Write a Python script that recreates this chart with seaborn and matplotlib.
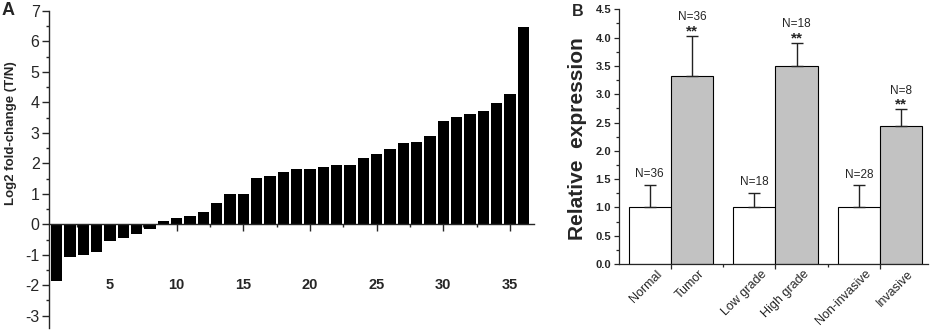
import numpy as np
import pandas as pd
import matplotlib
matplotlib.use('Agg')
import matplotlib.pyplot as plt
from matplotlib.transforms import blended_transform_factory
from matplotlib.ticker import MultipleLocator
import seaborn as sns

# panel A: log2 fold change per patient, sorted
fold_change = [-1.86, -1.06, -1.00, -0.90, -0.54, -0.44, -0.33, -0.15, 0.12, 0.19,
               0.28, 0.40, 0.70, 1.00, 1.00, 1.51, 1.60, 1.73, 1.82, 1.82,
               1.87, 1.94, 1.94, 2.16, 2.31, 2.48, 2.66, 2.71, 2.89, 3.39,
               3.52, 3.61, 3.71, 3.99, 4.29, 6.48]
sample_no = list(range(1, len(fold_change) + 1))

# panel B: relative expression, control vs case for three comparisons
comparisons = ['tumor', 'grade', 'invasion']
control_names = ['Normal', 'Low grade', 'Non-invasive']
case_names = ['Tumor', 'High grade', 'Invasive']
control_mean = [1.0, 1.0, 1.0]
control_sd = [0.40, 0.26, 0.39]
case_mean = [3.33, 3.50, 2.44]
case_sd = [0.70, 0.40, 0.29]
control_n = ['N=36', 'N=18', 'N=28']
case_n = ['N=36', 'N=18', 'N=8']

sns.set_style('ticks')
plt.rcParams['font.family'] = ['Liberation Sans', 'DejaVu Sans']

fig = plt.figure(figsize=(9.34, 3.30), dpi=100)
axA = fig.add_axes([0.0528, 0.0064, 0.519, 0.9603])
axB = fig.add_axes([0.6624, 0.2, 0.3312, 0.7718])

# ---- panel A
sns.barplot(x=sample_no, y=fold_change, native_scale=True, color='black',
            saturation=1, width=0.85, edgecolor='none', ax=axA)
sns.despine(ax=axA)
axA.spines['bottom'].set_position(('data', 0))
axA.set_xlim(0.45, 36.8)
axA.set_ylim(-3.4, 7)
axA.set_xticks([5, 10, 15, 20, 25, 30, 35])
axA.set_xticks(np.arange(2.5, 36, 5), minor=True)
axA.set_yticks(range(-3, 8))
axA.yaxis.set_minor_locator(MultipleLocator(0.5))
for sp in axA.spines.values():
    sp.set_linewidth(1.0)
axA.tick_params(axis='x', which='major', length=5, width=1, pad=34, labelsize=10.5)
axA.tick_params(axis='x', which='minor', length=2.5, width=1)
axA.tick_params(axis='y', which='major', length=5, width=1, pad=2, labelsize=11.5)
axA.tick_params(axis='y', which='minor', length=2.5, width=1)
for lbl in axA.get_xticklabels():
    lbl.set_fontweight('bold')
axA.set_yticklabels([str(v) for v in range(-3, 8)])
axA.set_xlabel('')
axA.set_ylabel('Log2 fold-change (T/N)', fontsize=9.5, fontweight='bold')
axA.yaxis.set_label_coords(-0.066, 0.615)

# ---- panel B
df_b = pd.DataFrame({
    'comparison': comparisons * 2,
    'status': ['control'] * 3 + ['case'] * 3,
    'mean': control_mean + case_mean,
})
sns.barplot(data=df_b, x='comparison', y='mean', hue='status',
            order=comparisons, hue_order=['control', 'case'],
            palette={'control': 'white', 'case': '#c2c2c2'}, saturation=1,
            width=0.81, gap=0, edgecolor='black', linewidth=0.8,
            errorbar=None, legend=False, ax=axB)
sns.despine(ax=axB)
axB.set_xlim(-0.5, 2.46)
axB.set_ylim(0, 4.5)
axB.set_yticks(np.arange(0, 4.51, 0.5))
axB.yaxis.set_minor_locator(MultipleLocator(0.25))
axB.set_yticklabels([f'{v:.1f}' for v in np.arange(0, 4.51, 0.5)])
axB.set_xticks([0, 1, 2])
axB.set_xticklabels([])
axB.set_xticks([0.5, 1.5], minor=True)
for sp in axB.spines.values():
    sp.set_linewidth(0.9)
axB.tick_params(axis='y', which='major', length=3.5, width=0.9, pad=2, labelsize=8)
axB.tick_params(axis='y', which='minor', length=2, width=0.9)
axB.tick_params(axis='x', which='major', length=3.5, width=0.9)
axB.tick_params(axis='x', which='minor', length=2, width=0.9)
for lbl in axB.get_yticklabels():
    lbl.set_fontweight('bold')
axB.set_xlabel('')
axB.set_ylabel('Relative  expression', fontsize=15, fontweight='bold')
axB.yaxis.set_label_coords(-0.1035, 0.491)

trans = blended_transform_factory(axB.transData, axB.transAxes)
groups = [(control_mean, control_sd, control_n, control_names, False),
          (case_mean, case_sd, case_n, case_names, True)]
for cont, (means, sds, ns, names, signif) in zip(axB.containers, groups):
    xs = [p.get_x() + p.get_width() / 2 for p in cont]
    axB.errorbar(xs, means, yerr=[np.zeros(len(sds)), sds], fmt='none',
                 ecolor='#222222', elinewidth=1, capsize=4, capthick=1, zorder=3)
    for x, m, s, n, name in zip(xs, means, sds, ns, names):
        top = m + s
        if signif:
            axB.text(x, top + 0.01, '**', ha='center', va='baseline',
                     fontsize=11, fontweight='bold')
            axB.text(x, top + 0.28, n, ha='center', va='baseline', fontsize=8.5)
        else:
            axB.text(x, top + 0.13, n, ha='center', va='baseline', fontsize=8.5)
        axB.text(x + 0.06, -0.015, name, transform=trans, rotation=45,
                 rotation_mode='anchor', ha='right', va='top', fontsize=9)

fig.text(0.002, 0.995, 'A', fontsize=13, fontweight='bold', va='top', ha='left')
fig.text(0.612, 0.988, 'B', fontsize=11.5, fontweight='bold', va='top', ha='left')

fig.savefig('out.png', dpi=100)
